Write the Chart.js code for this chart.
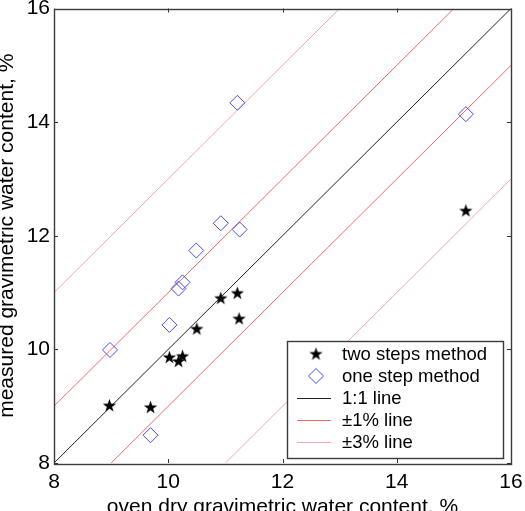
<!DOCTYPE html>
<html>
<head>
<meta charset="utf-8">
<script src="https://cdn.jsdelivr.net/npm/chart.js@4.4.1/dist/chart.umd.min.js"></script>
<style>
  html, body { margin: 0; padding: 0; background: #fff; }
  #wrap { width: 525px; height: 511px; position: relative; }
</style>
</head>
<body>
<div id="wrap"><canvas id="chart"></canvas></div>
<script>
/* ---------- DATA ---------- */
const twoStepX = [8.97, 9.69, 10.02, 10.18, 10.25, 10.5, 10.92, 11.21, 11.24, 15.21];
const twoStepY = [9.01, 8.98, 9.86, 9.79, 9.88, 10.36, 10.9, 10.99, 10.54, 12.44];
const oneStepX = [8.98, 9.69, 10.02, 10.18, 10.25, 10.49, 10.92, 11.25, 11.21, 15.21];
const oneStepY = [9.99, 8.49, 10.43, 11.07, 11.18, 11.74, 12.22, 12.11, 14.34, 14.14];

// reference lines (end points)
const line11X = [8, 16],  line11Y = [8, 16];
const plus1X = [8, 15],   plus1Y = [9, 16];
const minus1X = [9, 16],  minus1Y = [8, 15];
const plus3X = [8, 13],   plus3Y = [11, 16];
const minus3X = [11, 16], minus3Y = [8, 13];

const axisTicks = [8, 10, 12, 14, 16];
const legendLabels = ["two steps method", "one step method", "1:1 line", "\u00b11% line", "\u00b13% line"];

/* ---------- STYLE ---------- */
const FONT = "'Liberation Sans', Arial, sans-serif";
const red1 = "#ee6a6a";
const red3 = "#f4a4b0";
const blue = "#4a4ae8";

const pts = (xs, ys) => xs.map((x, i) => ({ x: x, y: ys[i] }));

// filled five-point star marker
const starImg = document.createElement("canvas");
starImg.width = 15;
starImg.height = 15;
(function () {
  const c = starImg.getContext("2d");
  const R = 7, r = 2.75, cx = 7.5, cy = 7.8;
  c.beginPath();
  for (let i = 0; i < 10; i++) {
    const rad = i % 2 === 0 ? R : r;
    const a = -Math.PI / 2 + (i * Math.PI) / 5;
    const px = cx + rad * Math.cos(a), py = cy + rad * Math.sin(a);
    i === 0 ? c.moveTo(px, py) : c.lineTo(px, py);
  }
  c.closePath();
  c.fillStyle = "#000";
  c.fill();
})();

const lineSet = (data, color) => ({
  data: data,
  showLine: true,
  borderColor: color,
  borderWidth: 1,
  pointRadius: 0,
  fill: false,
});

/* ---------- PLUGINS ---------- */
const boxTicks = {
  id: "boxTicks",
  afterDatasetsDraw(chart) {
    const { ctx, chartArea: a, scales } = chart;
    ctx.save();
    ctx.strokeStyle = "#333";
    ctx.lineWidth = 1;
    ctx.beginPath();
    axisTicks.forEach((v) => {
      const px = Math.round(scales.x.getPixelForValue(v)) + 0.5;
      ctx.moveTo(px, a.bottom); ctx.lineTo(px, a.bottom - 4);
      ctx.moveTo(px, a.top); ctx.lineTo(px, a.top + 4);
      const py = Math.round(scales.y.getPixelForValue(v)) + 0.5;
      ctx.moveTo(a.left, py); ctx.lineTo(a.left + 4, py);
      ctx.moveTo(a.right, py); ctx.lineTo(a.right - 4, py);
    });
    ctx.stroke();
    ctx.lineWidth = 1.4;
    ctx.strokeStyle = "#3a3a3a";
    ctx.strokeRect(Math.round(a.left) + 0.5, Math.round(a.top) + 0.5,
      Math.round(a.right - a.left), Math.round(a.bottom - a.top));
    ctx.restore();
  },
};

const boxLegend = {
  id: "boxLegend",
  afterDraw(chart) {
    const ctx = chart.ctx;
    const x0 = 287, y0 = 341, w = 216, h = 117;
    ctx.save();
    ctx.fillStyle = "#fff";
    ctx.fillRect(x0, y0, w, h);
    ctx.strokeStyle = "#3a3a3a";
    ctx.lineWidth = 1.4;
    ctx.strokeRect(x0 + 0.5, y0 + 0.5, w, h);
    ctx.font = "18.5px " + FONT;
    ctx.fillStyle = "#000";
    ctx.textBaseline = "middle";
    legendLabels.forEach((lab, i) => {
      const y = 354 + i * 22;
      if (i === 0) {
        ctx.drawImage(starImg, 316 - 7.5, y - 7.5);
      } else if (i === 1) {
        ctx.beginPath();
        ctx.moveTo(316 - 7.5, y); ctx.lineTo(316, y - 7.5);
        ctx.lineTo(316 + 7.5, y); ctx.lineTo(316, y + 7.5);
        ctx.closePath();
        ctx.strokeStyle = blue;
        ctx.lineWidth = 1;
        ctx.stroke();
      } else {
        ctx.beginPath();
        ctx.moveTo(297, Math.round(y) + 0.5);
        ctx.lineTo(331, Math.round(y) + 0.5);
        ctx.strokeStyle = i === 2 ? "#222" : i === 3 ? red1 : red3;
        ctx.lineWidth = 1;
        ctx.stroke();
      }
      ctx.fillStyle = "#000";
      ctx.fillText(lab, 342, y + 1);
    });
    ctx.restore();
  },
};

/* ---------- CHART ---------- */
const zeroPad = (scale) => {
  scale.paddingTop = 0;
  scale.paddingBottom = 0;
  scale.paddingLeft = 0;
  scale.paddingRight = 0;
};

new Chart(document.getElementById("chart").getContext("2d"), {
  type: "scatter",
  data: {
    datasets: [
      {
        label: legendLabels[0],
        data: pts(twoStepX, twoStepY),
        pointStyle: starImg,
        pointRadius: 7,
      },
      {
        label: legendLabels[1],
        data: pts(oneStepX, oneStepY),
        pointStyle: "rectRot",
        pointRadius: 7.5,
        borderColor: blue,
        backgroundColor: "rgba(255,255,255,0)",
        borderWidth: 1,
      },
      lineSet(pts(line11X, line11Y), "#222"),
      lineSet(pts(plus1X, plus1Y), red1),
      lineSet(pts(minus1X, minus1Y), red1),
      lineSet(pts(plus3X, plus3Y), red3),
      lineSet(pts(minus3X, minus3Y), red3),
    ],
  },
  options: {
    responsive: true,
    maintainAspectRatio: false,
    animation: false,
    layout: { padding: { top: 5, right: 14, left: 0, bottom: 0 } },
    plugins: {
      legend: { display: false },
      tooltip: { enabled: false },
    },
    scales: {
      x: {
        type: "linear",
        min: 8,
        max: 16,
        afterBuildTicks: (s) => { s.ticks = axisTicks.map((v) => ({ value: v })); },
        afterFit: (s) => { s.height = 48; zeroPad(s); },
        grid: { display: false, drawTicks: false },
        border: { display: false },
        ticks: {
          color: "#000",
          padding: 7,
          maxRotation: 0,
          autoSkip: false,
          font: { family: FONT, size: 21 },
        },
        title: {
          display: true,
          text: "oven dry gravimetric water content, %",
          color: "#000",
          font: { family: FONT, size: 21, lineHeight: 1 },
          padding: { top: 0, bottom: -7 },
        },
      },
      y: {
        type: "linear",
        min: 8,
        max: 16,
        afterBuildTicks: (s) => { s.ticks = axisTicks.map((v) => ({ value: v })); },
        afterFit: (s) => { s.width = 54; zeroPad(s); },
        grid: { display: false, drawTicks: false },
        border: { display: false },
        ticks: {
          color: "#000",
          padding: 4,
          autoSkip: false,
          font: { family: FONT, size: 21 },
        },
        title: {
          display: true,
          text: "measured gravimetric water content, %",
          color: "#000",
          font: { family: FONT, size: 21, lineHeight: 1 },
          padding: { top: -3.5, bottom: 0 },
        },
      },
    },
  },
  plugins: [boxTicks, boxLegend],
});
</script>
</body>
</html>
